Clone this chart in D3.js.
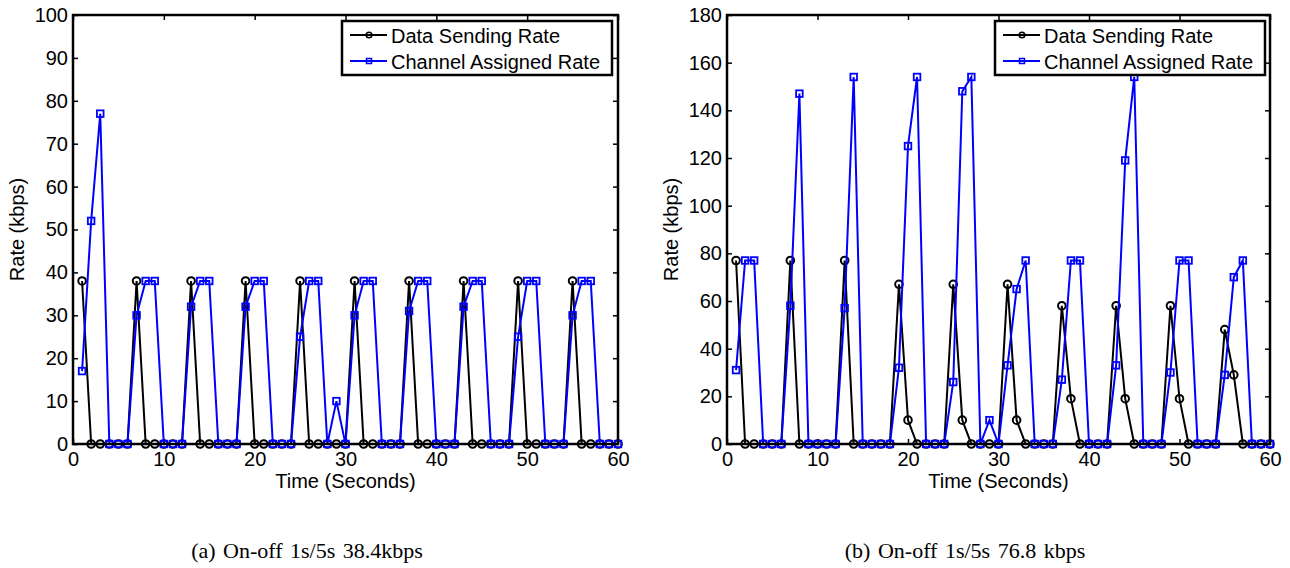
<!DOCTYPE html>
<html>
<head>
<meta charset="utf-8">
<script src="https://cdn.jsdelivr.net/npm/d3@7"></script>
<style>
  body { margin: 0; background: #fff; }
  svg text { font-family: "Liberation Sans", Arial, sans-serif; fill: #000; }
  .caption { font-family: "Liberation Serif", "Times New Roman", serif; }
</style>
</head>
<body>
<svg id="chart" width="1290" height="568"></svg>
<script>
// time axis (seconds)
const seconds = d3.range(1, 61);

// (a) On-off 1s/5s 38.4kbps
const sendRateA = [
  38, 0, 0, 0, 0, 0,   38, 0, 0, 0, 0, 0,   38, 0, 0, 0, 0, 0,   38, 0, 0, 0, 0, 0,
  38, 0, 0, 0, 0, 0,   38, 0, 0, 0, 0, 0,   38, 0, 0, 0, 0, 0,   38, 0, 0, 0, 0, 0,
  38, 0, 0, 0, 0, 0,   38, 0, 0, 0, 0, 0
];
const assignedRateA = [
  17, 52, 77, 0, 0, 0,   30, 38, 38, 0, 0, 0,   32, 38, 38, 0, 0, 0,   32, 38, 38, 0, 0, 0,
  25, 38, 38, 0, 10, 0,  30, 38, 38, 0, 0, 0,   31, 38, 38, 0, 0, 0,   32, 38, 38, 0, 0, 0,
  25, 38, 38, 0, 0, 0,   30, 38, 38, 0, 0, 0
];

// (b) On-off 1s/5s 76.8 kbps
const sendRateB = [
  77, 0, 0, 0, 0, 0,   77, 0, 0, 0, 0, 0,   77, 0, 0, 0, 0, 0,   67, 10, 0, 0, 0, 0,
  67, 10, 0, 0, 0, 0,  67, 10, 0, 0, 0, 0,  58, 19, 0, 0, 0, 0,  58, 19, 0, 0, 0, 0,
  58, 19, 0, 0, 0, 0,  48, 29, 0, 0, 0, 0
];
const assignedRateB = [
  31, 77, 77, 0, 0, 0,    58, 147, 0, 0, 0, 0,   57, 154, 0, 0, 0, 0,   32, 125, 154, 0, 0, 0,
  26, 148, 154, 0, 10, 0, 33, 65, 77, 0, 0, 0,   27, 77, 77, 0, 0, 0,   33, 119, 154, 0, 0, 0,
  30, 77, 77, 0, 0, 0,    29, 70, 77, 0, 0, 0
];

const xTicks = [0, 10, 20, 30, 40, 50, 60];
const yTicksA = [0, 10, 20, 30, 40, 50, 60, 70, 80, 90, 100];
const yTicksB = [0, 20, 40, 60, 80, 100, 120, 140, 160, 180];
const seriesNames = ["Data Sending Rate", "Channel Assigned Rate"];
const captions = ["(a) On-off 1s/5s 38.4kbps", "(b) On-off 1s/5s 76.8 kbps"];

const svg = d3.select("#chart");
const fontSize = 20;

/* one MATLAB-style panel */
const drawPanel = (geom, send, assigned, yTicks, caption) => {
  const x = d3.scaleLinear().domain([0, 60]).range([geom.left, geom.right]);
  const y = d3.scaleLinear().domain([0, yTicks[yTicks.length - 1]]).range([geom.bottom, geom.top]);
  const g = svg.append("g");

  // axes, ticks point inward on all four sides
  const styleAxis = (sel) => {
    sel.select(".domain").remove();
    sel.selectAll(".tick line").attr("stroke", "#000").attr("stroke-width", 1.5);
    sel.selectAll("text").attr("font-size", fontSize).attr("font-family", null).attr("fill", "#000");
  };
  g.append("g").attr("transform", `translate(0,${geom.bottom})`)
    .call(d3.axisBottom(x).tickValues(xTicks).tickSizeInner(-5).tickSizeOuter(0).tickPadding(8))
    .call(styleAxis);
  g.append("g").attr("transform", `translate(0,${geom.top})`)
    .call(d3.axisTop(x).tickValues(xTicks).tickSizeInner(-5).tickSizeOuter(0).tickFormat(""))
    .call(styleAxis);
  g.append("g").attr("transform", `translate(${geom.left},0)`)
    .call(d3.axisLeft(y).tickValues(yTicks).tickSizeInner(-5).tickSizeOuter(0).tickPadding(5))
    .call(styleAxis);
  g.append("g").attr("transform", `translate(${geom.right},0)`)
    .call(d3.axisRight(y).tickValues(yTicks).tickSizeInner(-5).tickSizeOuter(0).tickFormat(""))
    .call(styleAxis);

  const line = d3.line().x((d, i) => x(seconds[i])).y((d) => y(d));

  // data sending rate (black, circles)
  g.append("path").datum(send)
    .attr("d", line).attr("fill", "none").attr("stroke", "#000").attr("stroke-width", 2);
  g.append("g").selectAll("circle").data(send).enter().append("circle")
    .attr("cx", (d, i) => x(seconds[i])).attr("cy", (d) => y(d)).attr("r", 3.8)
    .attr("fill", "none").attr("stroke", "#000").attr("stroke-width", 2);

  // channel assigned rate (blue, squares)
  g.append("path").datum(assigned)
    .attr("d", line).attr("fill", "none").attr("stroke", "#0000ff").attr("stroke-width", 2);
  g.append("g").selectAll("rect").data(assigned).enter().append("rect")
    .attr("x", (d, i) => x(seconds[i]) - 3.3).attr("y", (d) => y(d) - 3.3)
    .attr("width", 6.6).attr("height", 6.6)
    .attr("fill", "none").attr("stroke", "#0000ff").attr("stroke-width", 1.8);

  // plot box
  g.append("rect")
    .attr("x", geom.left).attr("y", geom.top)
    .attr("width", geom.right - geom.left).attr("height", geom.bottom - geom.top)
    .attr("fill", "none").attr("stroke", "#000").attr("stroke-width", 2.5);

  // axis titles
  g.append("text")
    .attr("x", (geom.left + geom.right) / 2).attr("y", 488)
    .attr("text-anchor", "middle").attr("font-size", fontSize)
    .text("Time (Seconds)");
  g.append("text")
    .attr("transform", `translate(${geom.left - 49},${(geom.top + geom.bottom) / 2}) rotate(-90)`)
    .attr("text-anchor", "middle").attr("font-size", fontSize)
    .text("Rate (kbps)");

  // legend
  const lg = g.append("g").attr("transform", `translate(${geom.legendX},21)`);
  lg.append("rect").attr("width", 270).attr("height", 54)
    .attr("fill", "#fff").attr("stroke", "#000").attr("stroke-width", 2.5);
  const rows = [
    { name: seriesNames[0], color: "#000", y: 14 },
    { name: seriesNames[1], color: "#0000ff", y: 40 }
  ];
  rows.forEach((r, i) => {
    lg.append("line").attr("x1", 8).attr("x2", 45).attr("y1", r.y).attr("y2", r.y)
      .attr("stroke", r.color).attr("stroke-width", 2);
    if (i === 0) {
      lg.append("circle").attr("cx", 27).attr("cy", r.y).attr("r", 2.8)
        .attr("fill", "none").attr("stroke", r.color).attr("stroke-width", 1.6);
    } else {
      lg.append("rect").attr("x", 24.5).attr("y", r.y - 2.5).attr("width", 5).attr("height", 5)
        .attr("fill", "none").attr("stroke", r.color).attr("stroke-width", 1.5);
    }
    lg.append("text").attr("x", 49).attr("y", r.y + 8)
      .attr("font-size", fontSize).text(r.name);
  });

  // sub-figure caption
  svg.append("text").attr("class", "caption")
    .attr("x", geom.captionX).attr("y", 558)
    .attr("text-anchor", "middle").attr("font-size", 22)
    .attr("word-spacing", 2)
    .text(caption);
};

drawPanel({ left: 73, right: 618, top: 15, bottom: 444, legendX: 342, captionX: 307 },
  sendRateA, assignedRateA, yTicksA, captions[0]);
drawPanel({ left: 727, right: 1270, top: 15, bottom: 444, legendX: 995, captionX: 965 },
  sendRateB, assignedRateB, yTicksB, captions[1]);
</script>
</body>
</html>
